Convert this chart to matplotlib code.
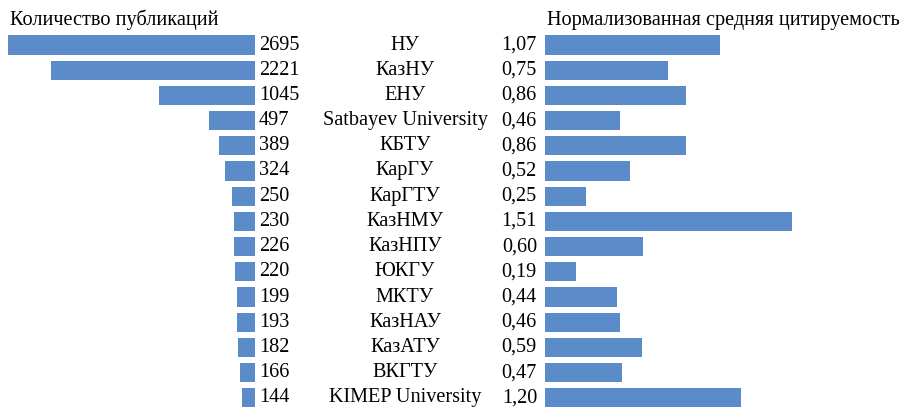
import matplotlib.pyplot as plt

universities = ['НУ', 'КазНУ', 'ЕНУ', 'Satbayev University', 'КБТУ', 'КарГУ', 'КарГТУ',
                'КазНМУ', 'КазНПУ', 'ЮКГУ', 'МКТУ', 'КазНАУ', 'КазАТУ', 'ВКГТУ', 'KIMEP University']
publications = [2695, 2221, 1045, 497, 389, 324, 250, 230, 226, 220, 199, 193, 182, 166, 144]
citation = [1.07, 0.75, 0.86, 0.46, 0.86, 0.52, 0.25, 1.51, 0.60, 0.19, 0.44, 0.46, 0.59, 0.47, 1.20]

W, H = 904, 408
bar_color = '#5b8bc8'
plt.rcParams['font.family'] = ['Liberation Serif', 'DejaVu Serif']
fs = 14.6

fig = plt.figure(figsize=(W / 100, H / 100), dpi=100)

# row geometry in pixels
top, step = 45, 25.2
n = len(universities)
y0 = top - step / 2
y1 = top + step * (n - 1) + step / 2

def px_axes(x_left, x_right):
    return fig.add_axes([x_left / W, (H - y1) / H, (x_right - x_left) / W, (y1 - y0) / H])

axl = px_axes(8, 255)
axl.barh(range(n), publications, height=0.76, color=bar_color)
axl.set_xlim(max(publications), 0)
axl.set_ylim(n - 0.5, -0.5)
axl.axis('off')

axr = px_axes(545, 792)
axr.barh(range(n), citation, height=0.76, color=bar_color)
axr.set_xlim(0, max(citation))
axr.set_ylim(n - 0.5, -0.5)
axr.axis('off')

for i in range(n):
    yf = (H - (top + step * i)) / H
    fig.text(259 / W, yf, str(publications[i]), ha='left', va='center', fontsize=fs)
    fig.text(405 / W, yf, universities[i], ha='center', va='center', fontsize=fs)
    fig.text(537 / W, yf, ('%.2f' % citation[i]).replace('.', ','), ha='right', va='center', fontsize=fs)

fig.text(10 / W, (H - 20) / H, 'Количество публикаций', ha='left', va='center', fontsize=fs)
fig.text(547 / W, (H - 20) / H, 'Нормализованная средняя цитируемость', ha='left', va='center', fontsize=fs)

fig.savefig('out.png', dpi=100)
